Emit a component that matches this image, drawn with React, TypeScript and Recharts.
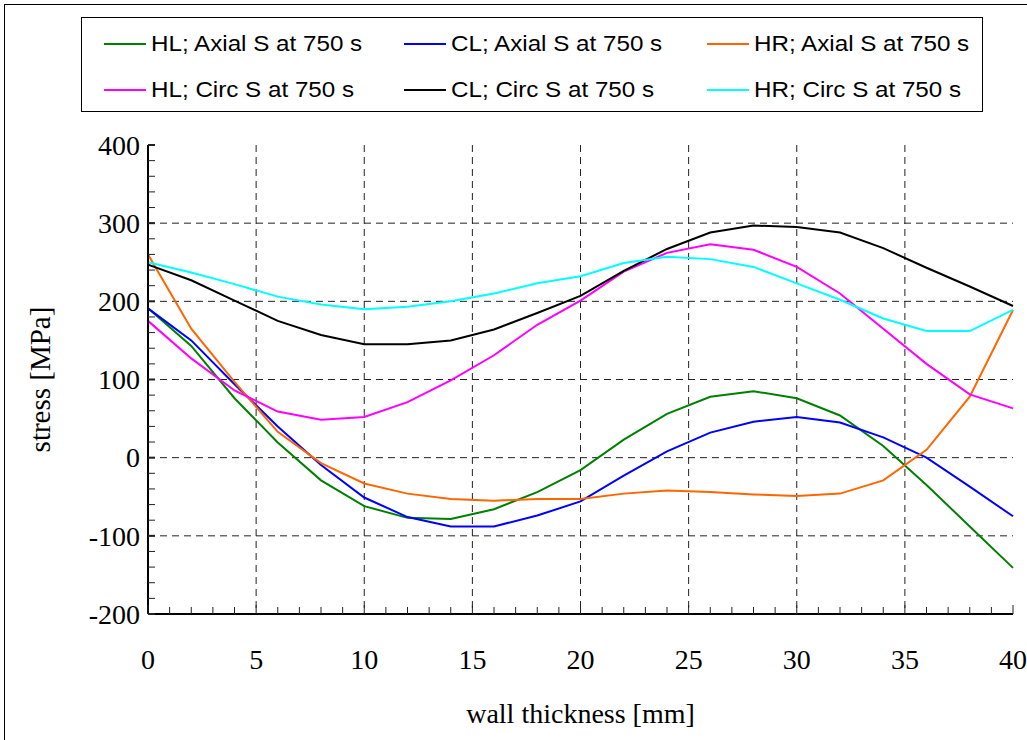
import React from 'react';
import { LineChart, Line, XAxis, YAxis, CartesianGrid } from 'recharts';

// wall thickness positions [mm]
const thickness = [0, 2, 4, 6, 8, 10, 12, 14, 16, 18, 20, 22, 24, 26, 28, 30, 32, 34, 36, 38, 40];

// stresses [MPa]
const hlAxial = [191, 143, 76, 19.5, -29, -62, -77, -78.5, -66, -44, -16, 23, 56, 78, 85, 76, 54, 15, -35, -88, -141];
const clAxial = [191, 150, 94, 40, -9.5, -51, -76, -88, -88, -74, -56, -23, 8, 32, 46, 52, 45, 26, 0, -37, -75];
const hrAxial = [260, 165, 97, 33, -7, -33, -46, -53, -55, -53, -53, -46, -42, -44, -47, -49, -46, -29, 10, 78, 189];
const hlCirc = [175, 127, 86, 59, 48.5, 52, 71, 99, 131, 170, 201, 238, 262, 273, 266, 244, 210, 165, 120, 81, 63];
const clCirc = [247, 227, 201, 175, 157, 145, 145, 150, 164, 185, 207, 239, 267, 288, 297, 295, 288, 268, 243, 219, 194];
const hrCirc = [250, 237, 222, 206, 196, 190, 193, 200, 210, 223, 232, 249, 257, 254, 244, 223, 202, 178, 162, 162, 189];

const seriesKeys = ['hlAxial', 'clAxial', 'hrAxial', 'hlCirc', 'clCirc', 'hrCirc'];
const seriesNames = [
  'HL; Axial S at 750 s',
  'CL; Axial S at 750 s',
  'HR; Axial S at 750 s',
  'HL; Circ S at 750 s',
  'CL; Circ S at 750 s',
  'HR; Circ S at 750 s',
];
const seriesColors = ['#008000', '#0000ff', '#ff6600', '#ff00ff', '#000000', '#00ffff'];
const seriesValues = [hlAxial, clAxial, hrAxial, hlCirc, clCirc, hrCirc];

const xTicks = [0, 1, 2, 3, 4, 5, 6, 7, 8, 9, 10, 11, 12, 13, 14, 15, 16, 17, 18, 19, 20, 21, 22, 23, 24, 25, 26, 27, 28, 29, 30, 31, 32, 33, 34, 35, 36, 37, 38, 39, 40];
const xLabelTicks = [0, 5, 10, 15, 20, 25, 30, 35, 40];
const yTicks = [-200, -180, -160, -140, -120, -100, -80, -60, -40, -20, 0, 20, 40, 60, 80, 100, 120, 140, 160, 180, 200, 220, 240, 260, 280, 300, 320, 340, 360, 380, 400];
const yLabelTicks = [-200, -100, 0, 100, 200, 300, 400];
const xGrid = [5, 10, 15, 20, 25, 30, 35];
const yGrid = [-100, 0, 100, 200, 300];

const data = thickness.map((t, i) => {
  const row: Record<string, number> = { t };
  seriesKeys.forEach((k, j) => {
    row[k] = seriesValues[j][i];
  });
  return row;
});

const SERIF = '"Liberation Serif", "Times New Roman", serif';
const SANS = '"Liberation Sans", Arial, sans-serif';

const YTick = (props: any) => {
  const { x, y, payload } = props;
  const v = payload.value;
  const major = yLabelTicks.includes(v);
  return (
    <g>
      <line x1={x} y1={y} x2={x + 7} y2={y} stroke="#222" strokeWidth={major ? 2 : 1} />
      {major && (
        <text x={x - 8} y={y} dy="0.35em" textAnchor="end" fontFamily={SERIF} fontSize={28} fill="#000">
          {v}
        </text>
      )}
    </g>
  );
};

const XTick = (props: any) => {
  const { x, y, payload } = props;
  const v = payload.value;
  const major = xLabelTicks.includes(v);
  return (
    <g>
      <line x1={x} y1={y} x2={x} y2={y - (major ? 9 : 7)} stroke="#222" strokeWidth={1} />
      {major && (
        <text x={x} y={y + 55} textAnchor="middle" fontFamily={SERIF} fontSize={28} fill="#000">
          {v}
        </text>
      )}
    </g>
  );
};

const legendCols = [22, 322, 625];
const legendRows = [26, 72];

export default function App() {
  return (
    <div style={{ position: 'absolute', left: 0, top: 0, width: 1027, height: 740, overflow: 'hidden', background: '#fff' }}>
      <div
        style={{
          position: 'absolute',
          left: 4,
          top: 4,
          width: 1100,
          height: 800,
          borderLeft: '1px solid #000',
          borderTop: '1px solid #000',
          boxSizing: 'border-box',
        }}
      />
      <div style={{ position: 'absolute', left: 0, top: 0 }}>
        <LineChart width={1027} height={740} data={data} margin={{ top: 145, right: 14, bottom: 0, left: 0 }}>
          <CartesianGrid
            horizontalValues={yGrid}
            verticalValues={xGrid}
            stroke="#222"
            strokeDasharray="7 5"
            strokeWidth={1}
          />
          <XAxis
            dataKey="t"
            type="number"
            domain={[0, 40]}
            ticks={xTicks}
            interval={0}
            height={126}
            tickSize={0}
            tickMargin={0}
            tickLine={false}
            axisLine={{ stroke: '#000', strokeWidth: 2 }}
            tick={<XTick />}
            label={{
              content: (p: any) => {
                const vb = p.viewBox;
                return (
                  <text x={vb.x + vb.width / 2} y={vb.y + 109} textAnchor="middle" fontFamily={SERIF} fontSize={28} fill="#000">
                    wall thickness [mm]
                  </text>
                );
              },
            }}
          />
          <XAxis xAxisId="top" orientation="top" dataKey="t" type="number" domain={[0, 40]} height={0} tick={false} tickLine={false} axisLine={{ stroke: '#333', strokeWidth: 2 }} />
          <YAxis
            type="number"
            domain={[-200, 400]}
            ticks={yTicks}
            interval={0}
            width={148}
            tickSize={0}
            tickMargin={0}
            tickLine={false}
            axisLine={{ stroke: '#000', strokeWidth: 2 }}
            tick={<YTick />}
            label={{
              content: (p: any) => {
                const vb = p.viewBox;
                const cx = vb.x + 40;
                const cy = vb.y + vb.height / 2;
                return (
                  <text x={cx} y={cy} transform={`rotate(-90 ${cx} ${cy})`} textAnchor="middle" dy="0.35em" fontFamily={SERIF} fontSize={29} fill="#000">
                    stress [MPa]
                  </text>
                );
              },
            }}
          />
          <YAxis yAxisId="right" orientation="right" type="number" domain={[-200, 400]} width={0} tick={false} tickLine={false} axisLine={{ stroke: '#333', strokeWidth: 2 }} />
          {seriesKeys.map((k, i) => (
            <Line
              key={k}
              dataKey={k}
              name={seriesNames[i]}
              type="linear"
              stroke={seriesColors[i]}
              strokeWidth={2}
              dot={false}
              activeDot={false}
              isAnimationActive={false}
            />
          ))}
        </LineChart>
      </div>
      <div
        style={{
          position: 'absolute',
          left: 81,
          top: 17,
          width: 902,
          height: 95,
          border: '1px solid #000',
          boxSizing: 'border-box',
          background: '#fff',
          fontFamily: SANS,
          fontSize: 22,
          color: '#000',
        }}
      >
        {seriesNames.map((n, i) => (
          <div
            key={n}
            style={{
              position: 'absolute',
              left: legendCols[i % 3],
              top: legendRows[Math.floor(i / 3)] - 14,
              height: 28,
              display: 'flex',
              alignItems: 'center',
              whiteSpace: 'nowrap',
            }}
          >
            <span style={{ display: 'inline-block', width: 42, height: 2, background: seriesColors[i], marginRight: 5 }} />
            <span style={{ display: 'inline-block', transform: 'scaleX(1.1)', transformOrigin: 'left center' }}>{n}</span>
          </div>
        ))}
      </div>
    </div>
  );
}
